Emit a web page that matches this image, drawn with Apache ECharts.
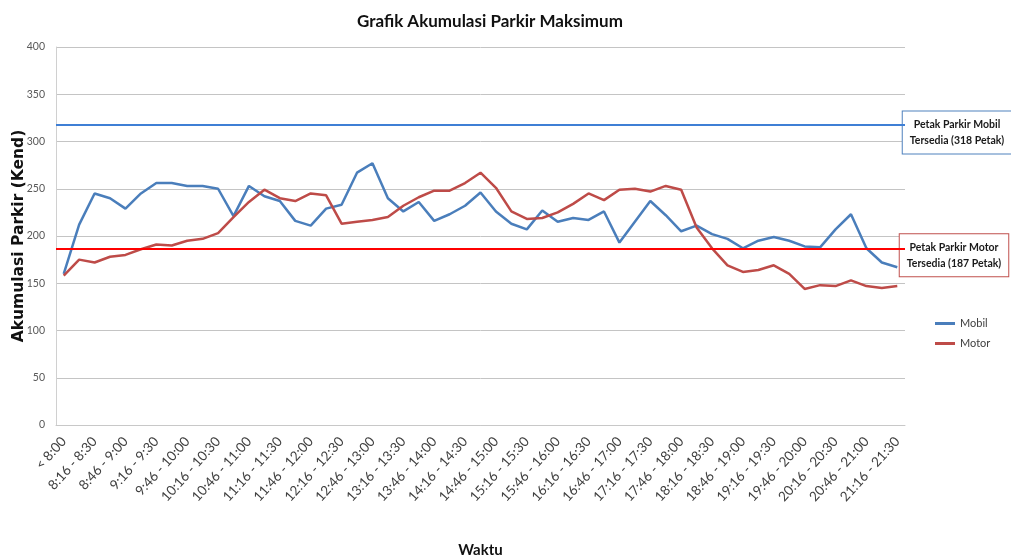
<!DOCTYPE html>
<html>
<head>
<meta charset="utf-8">
<script src="https://cdn.jsdelivr.net/npm/echarts@6/dist/echarts.min.js"></script>
<style>
  html, body { margin: 0; padding: 0; background: #fff; }
  #chart { width: 1011px; height: 560px; }
</style>
</head>
<body>
<div id="chart"></div>
<script>
// waktu (interval 15 menit)
const categories = [
  '< 8:00', '8:01 - 8:15', '8:16 - 8:30', '8:31 - 8:45', '8:46 - 9:00',
  '9:01 - 9:15', '9:16 - 9:30', '9:31 - 9:45', '9:46 - 10:00', '10:01 - 10:15',
  '10:16 - 10:30', '10:31 - 10:45', '10:46 - 11:00', '11:01 - 11:15', '11:16 - 11:30',
  '11:31 - 11:45', '11:46 - 12:00', '12:01 - 12:15', '12:16 - 12:30', '12:31 - 12:45',
  '12:46 - 13:00', '13:01 - 13:15', '13:16 - 13:30', '13:31 - 13:45', '13:46 - 14:00',
  '14:01 - 14:15', '14:16 - 14:30', '14:31 - 14:45', '14:46 - 15:00', '15:01 - 15:15',
  '15:16 - 15:30', '15:31 - 15:45', '15:46 - 16:00', '16:01 - 16:15', '16:16 - 16:30',
  '16:31 - 16:45', '16:46 - 17:00', '17:01 - 17:15', '17:16 - 17:30', '17:31 - 17:45',
  '17:46 - 18:00', '18:01 - 18:15', '18:16 - 18:30', '18:31 - 18:45', '18:46 - 19:00',
  '19:01 - 19:15', '19:16 - 19:30', '19:31 - 19:45', '19:46 - 20:00', '20:01 - 20:15',
  '20:16 - 20:30', '20:31 - 20:45', '20:46 - 21:00', '21:01 - 21:15', '21:16 - 21:30'
]

const mobil = [
  160, 212, 245, 240, 229, 245, 256, 256, 253, 253,
  250, 221, 253, 242, 237, 216, 211, 229, 233, 267,
  277, 240, 226, 236, 216, 223, 232, 246, 226, 213,
  207, 227, 215, 219, 217, 226, 193, 215, 237, 222,
  205, 211, 202, 197, 187, 195, 199, 195, 189, 188,
  207, 223, 187, 172, 167
]

const motor = [
  158, 175, 172, 178, 180, 186, 191, 190, 195, 197,
  203, 220, 236, 249, 240, 237, 245, 243, 213, 215,
  217, 220, 232, 241, 248, 248, 256, 267, 251, 226,
  218, 219, 225, 234, 245, 238, 249, 250, 247, 253,
  249, 209, 187, 169, 162, 164, 169, 160, 144, 148,
  147, 153, 147, 145, 147
]

// kapasitas petak parkir
const petakMobil = 318
const petakMotor = 187

const yTicks = { min: 0, max: 400, interval: 50 }

const peakIdx = motor.indexOf(Math.max(...motor))

const chart = echarts.init(document.getElementById('chart'))

chart.setOption({
  animation: false,
  title: {
    text: 'Grafik Akumulasi Parkir Maksimum',
    left: 352,
    top: 8,
    textStyle: { fontFamily: 'Lato', fontSize: 17, fontWeight: 'bold', color: '#111' }
  },
  grid: { left: 56, right: 106, top: 47, bottom: 135, outerBoundsMode: 'none' },
  legend: {
    orient: 'vertical',
    left: 930,
    top: 313,
    itemGap: 9,
    itemWidth: 20,
    itemHeight: 3,
    icon: 'rect',
    textStyle: { fontFamily: 'Lato', fontSize: 11, color: '#404040' },
    data: ['Mobil', 'Motor']
  },
  xAxis: {
    type: 'category',
    data: categories,
    boundaryGap: true,
    name: 'Waktu',
    nameLocation: 'middle',
    nameGap: 118,
    nameMoveOverlap: false,
    nameTextStyle: { fontFamily: 'Lato', fontSize: 15, fontWeight: 'bold', color: '#111' },
    axisLine: { lineStyle: { color: '#c8c8c8' } },
    axisTick: { show: false },
    axisLabel: { interval: 1, rotate: 48, fontFamily: 'Lato', fontSize: 13.5, color: '#404040', margin: 14 }
  },
  yAxis: {
    type: 'value',
    ...yTicks,
    name: 'Akumulasi Parkir (Kend)',
    nameLocation: 'middle',
    nameGap: 29,
    nameMoveOverlap: false,
    nameTextStyle: { fontFamily: 'DejaVu Sans', fontSize: 15.5, fontWeight: 'bold', color: '#111' },
    axisLine: { show: true, lineStyle: { color: '#d0d0d0' } },
    axisTick: { show: false },
    axisLabel: { fontFamily: 'Lato', fontSize: 10.5, color: '#595959', margin: 11 },
    splitLine: { lineStyle: { color: '#c4c4c4' } }
  },
  series: [
    {
      name: 'Mobil',
      type: 'line',
      data: mobil,
      symbol: 'none',
      color: '#4a7ebb',
      lineStyle: { width: 2.5 },
      markLine: {
        silent: true,
        symbol: 'none',
        label: { show: false },
        lineStyle: { color: '#3f7fd5', width: 2, type: 'solid' },
        data: [{ yAxis: petakMobil }]
      }
    },
    {
      name: 'Motor',
      type: 'line',
      data: motor,
      symbol: 'none',
      color: '#be4b48',
      lineStyle: { width: 2.5 },
      label: {
        show: true,
        position: 'top',
        distance: 3,
        fontFamily: 'Lato',
        fontWeight: 'bold',
        fontSize: 11,
        color: '#111',
        formatter: p => (p.dataIndex === peakIdx ? p.value : '')
      },
      markLine: {
        silent: true,
        symbol: 'none',
        label: { show: false },
        lineStyle: { color: '#ff0000', width: 2, type: 'solid' },
        data: [{ yAxis: petakMotor }]
      }
    }
  ]
})

// kotak keterangan di kanan garis kapasitas
const box = (cx, value, dy, color, text) => ({
  type: 'text',
  x: cx,
  y: chart.convertToPixel({ yAxisIndex: 0 }, value) + dy,
  silent: true,
  style: {
    text,
    align: 'center',
    verticalAlign: 'middle',
    fill: '#1a1a1a',
    font: 'bold 10.5px Lato',
    lineHeight: 16,
    backgroundColor: '#fff',
    borderColor: color,
    borderWidth: 1,
    padding: [5, 7, 5, 7]
  }
})

chart.setOption({
  graphic: [
    box(957, petakMobil, 8, '#4f81bd', 'Petak Parkir Mobil\nTersedia (' + petakMobil + ' Petak)'),
    box(954, petakMotor, 7, '#c0504d', 'Petak Parkir Motor\nTersedia (' + petakMotor + ' Petak)')
  ]
})
</script>
</body>
</html>
